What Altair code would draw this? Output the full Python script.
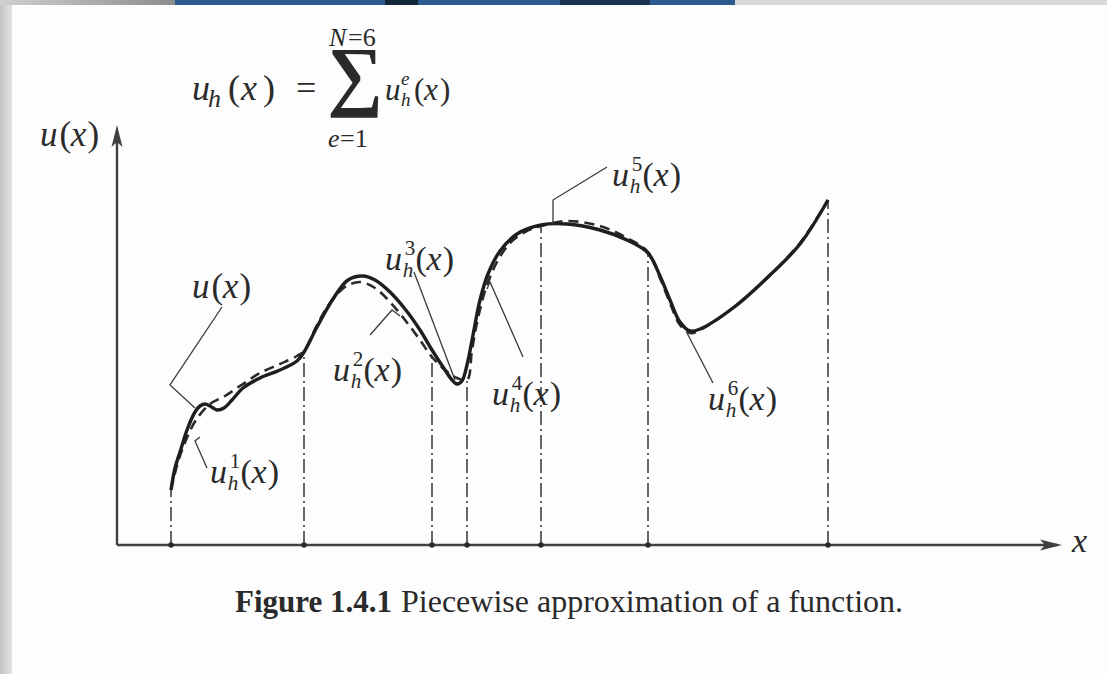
import altair as alt
import pandas as pd

# ---- element nodes on the x axis and the nodal values of the approximation
node_x = [0.54, 1.87, 3.15, 3.50, 4.24, 5.31, 7.11]
node_u = [0.55, 1.94, 1.88, 1.65, 3.19, 2.93, 3.45]

# ---- exact function u(x)
curve_x = [0.54, 0.58, 0.63, 0.70, 0.78, 0.83, 0.88, 0.93, 1.00, 1.07,
           1.15, 1.26, 1.43, 1.63, 1.80, 1.87, 2.00, 2.16, 2.31, 2.46,
           2.58, 2.73, 2.88, 3.03, 3.15, 3.28, 3.35, 3.40, 3.45, 3.50,
           3.56, 3.63, 3.71, 3.83, 4.00, 4.24, 4.50, 4.83, 5.10, 5.31,
           5.43, 5.53, 5.63, 5.73, 5.83, 6.16, 6.50, 6.83, 7.11]
curve_u = [0.55, 0.77, 0.93, 1.15, 1.33, 1.39, 1.41, 1.39, 1.35, 1.37,
           1.45, 1.57, 1.67, 1.75, 1.84, 1.93, 2.18, 2.46, 2.65, 2.69,
           2.65, 2.53, 2.36, 2.15, 1.95, 1.75, 1.65, 1.61, 1.64, 1.80,
           2.10, 2.45, 2.71, 2.94, 3.11, 3.20, 3.21, 3.15, 3.05, 2.92,
           2.69, 2.45, 2.23, 2.14, 2.16, 2.37, 2.67, 3.01, 3.45]

# ---- piecewise approximation u_h(x), element by element
approx_x = [0.54, 0.61, 0.69, 0.79, 0.93, 1.08, 1.26, 1.43, 1.63, 1.80, 1.87,
            2.00, 2.13, 2.28, 2.43, 2.58, 2.73, 2.88, 3.03, 3.15,
            3.28, 3.40, 3.50,
            3.55, 3.61, 3.69, 3.80, 3.93, 4.08, 4.24,
            4.50, 4.83, 5.10, 5.31,
            5.43, 5.53, 5.63, 5.73, 5.83, 6.16, 6.50, 6.83, 7.11]
approx_u = [0.55, 0.83, 1.05, 1.25, 1.41, 1.49, 1.61, 1.72, 1.81, 1.89, 1.94,
            2.20, 2.42, 2.58, 2.63, 2.57, 2.43, 2.25, 2.05, 1.88,
            1.75, 1.67, 1.65,
            1.95, 2.27, 2.57, 2.83, 3.02, 3.13, 3.19,
            3.24, 3.19, 3.07, 2.93,
            2.67, 2.42, 2.20, 2.12, 2.15, 2.37, 2.67, 3.02, 3.45]

# ---- element numbers used in the labels
element_ids = ["1", "2", "3", "4", "5", "6"]
caption_bold = "Figure 1.4.1"
caption_text = "Piecewise approximation of a function."

# ---- layout: plot window in data units (100 px per unit)
X_DOM = [-1.17, 9.90]
U_DOM = [-1.29, 5.45]
PX = 0.01
W, H = 1107, 674
INK = "#2a2a2a"
FONT = "Liberation Serif"

# leader lines from labels to the curves
leaders = {
    "u": [(1.05, 2.38), (0.53, 1.60), (0.78, 1.37)],
    "1": [(0.83, 1.08), (0.78, 1.04), (0.90, 0.77)],
    "2": [(2.53, 2.10), (2.75, 2.35), (2.83, 2.29)],
    "3": [(2.97, 2.73), (3.38, 1.65)],
    "4": [(4.06, 1.88), (3.73, 2.63), (3.70, 2.56)],
    "5": [(4.90, 3.78), (4.36, 3.45), (4.36, 3.20)],
    "6": [(5.96, 1.62), (5.70, 2.12)],
}
# label anchors (left edge, baseline) of u_h^e(x) for each element
label_anchor = {"1": (0.93, 0.62), "2": (2.16, 1.64), "3": (2.68, 2.75),
                "4": (3.75, 1.40), "5": (4.95, 3.59), "6": (5.91, 1.35)}


def piece(txt, x, u, fs, style):
    return dict(txt=txt, x=x, u=u, fs=fs, style=style)


def uh_label(x0, u0, sup, fs):
    s = fs * PX
    return [piece("u", x0, u0, fs, "i"),
            piece("h", x0 + 0.52 * s, u0 - 0.22 * s, 0.62 * fs, "i"),
            piece(sup, x0 + 0.58 * s, u0 + 0.45 * s, 0.62 * fs, "r"),
            piece("(", x0 + 0.90 * s, u0, fs, "r"),
            piece("x", x0 + 1.22 * s, u0, fs, "i"),
            piece(")", x0 + 1.70 * s, u0, fs, "r")]


def u_label(x0, u0, fs):
    s = fs * PX
    return [piece("u", x0, u0, fs, "i"),
            piece("(", x0 + 0.56 * s, u0, fs, "r"),
            piece("x", x0 + 0.88 * s, u0, fs, "i"),
            piece(")", x0 + 1.36 * s, u0, fs, "r")]


texts = []
texts += u_label(0.75, 2.47, 35)          # u(x) next to the curve
texts += u_label(-0.77, 3.99, 35)         # ordinate label
texts.append(piece("x", 9.55, -0.07, 34, "i"))
for e in element_ids:
    ax, au = label_anchor[e]
    texts += uh_label(ax, au, e, 34)

# u_h(x) = sum_{e=1}^{N=6} u_h^e(x)
fx, fu = 0.75, 4.45
texts += [piece("u", fx, fu, 36, "i"),
          piece("h", fx + 0.16, fu - 0.07, 26, "i"),
          piece("(", fx + 0.36, fu, 36, "r"),
          piece("x", fx + 0.49, fu, 36, "i"),
          piece(")", fx + 0.71, fu, 36, "r"),
          piece("=", fx + 1.04, fu, 36, "r"),
          piece("\u2211", 2.10, 4.44, 78, "b"),
          piece("N", 2.12, 4.99, 26, "i"),
          piece("=6", 2.31, 4.99, 26, "r"),
          piece("e", 2.11, 3.98, 26, "i"),
          piece("=1", 2.23, 3.98, 26, "r"),
          piece("u", 2.68, fu, 31, "i"),
          piece("e", 2.84, fu + 0.15, 19, "i"),
          piece("h", 2.84, fu - 0.06, 19, "i"),
          piece("(", 2.97, fu, 31, "r"),
          piece("x", 3.07, fu, 31, "i"),
          piece(")", 3.23, fu, 31, "r")]
# caption
texts += [piece(caption_bold, 1.18, -0.67, 31, "b"),
          piece(caption_text, 2.84, -0.67, 32, "r")]

text_df = pd.DataFrame(texts)

curve_df = pd.DataFrame({"x": curve_x, "u": curve_u})
approx_df = pd.DataFrame({"x": approx_x, "u": approx_u})
node_df = pd.DataFrame({"x": node_x, "u": node_u, "zero": [0.0] * len(node_x)})
lead_rows = []
for k, pts in leaders.items():
    for i, (lx, lu) in enumerate(pts):
        lead_rows.append(dict(g=k, i=i, x=lx, u=lu))
lead_df = pd.DataFrame(lead_rows)
axes_df = pd.DataFrame({"x": [0.0, 0.0], "u": [0.0, 0.0],
                        "x2": [9.40, 0.0], "u2": [0.0, 4.12]})
arrow_df = pd.DataFrame({"x": [9.34, 0.0], "u": [0.0, 4.09], "ang": [0, 270]})

xs = alt.Scale(domain=X_DOM, nice=False, zero=False)
us = alt.Scale(domain=U_DOM, nice=False, zero=False)
X = alt.X("x:Q", scale=xs, axis=None)
U = alt.Y("u:Q", scale=us, axis=None)

# page frame: slide edge showing at the top and left
frame_top = [(0, 175, alt.Gradient(gradient="linear", stops=[
                 alt.GradientStop(color="#d0d0d0", offset=0),
                 alt.GradientStop(color="#8c8c8c", offset=1)], x1=0, x2=1, y1=0, y2=0)),
             (175, 385, "#2c5b8f"), (385, 418, "#14263a"), (418, 560, "#2c5b8f"),
             (560, 650, "#1b3352"), (650, 735, "#2c5b8f"), (735, W, "#d9d9d9")]
frame_layers = []
for a, b, col in frame_top:
    frame_layers.append(alt.Chart(pd.DataFrame({"k": [0]})).mark_rect(color=col).encode(
        x=alt.value(a), x2=alt.value(b), y=alt.value(0), y2=alt.value(5)))
frame_layers.append(alt.Chart(pd.DataFrame({"k": [0]})).mark_rect(
    color=alt.Gradient(gradient="linear", stops=[
        alt.GradientStop(color="#c4c4c4", offset=0),
        alt.GradientStop(color="#e3e3e3", offset=1)], x1=0, x2=1, y1=0, y2=0)
).encode(x=alt.value(0), x2=alt.value(12), y=alt.value(5), y2=alt.value(H)))

base_axes = alt.Chart(axes_df).mark_rule(color="#404040", strokeWidth=2.4).encode(
    x=X, y=U, x2="x2:Q", y2="u2:Q")
arrows = alt.Chart(arrow_df).mark_point(
    shape="M 1 0 L -1 -0.5 L -0.55 0 L -1 0.5 Z", filled=True, color="#404040",
    size=480, opacity=1).encode(x=X, y=U, angle=alt.Angle("ang:Q", scale=None))

dashdot = alt.Chart(node_df).mark_rule(color="#333333", strokeWidth=1.5,
                                       strokeDash=[14, 4, 2, 4]).encode(
    x=X, y=alt.Y("zero:Q", scale=us, axis=None), y2="u:Q")
node_dots = alt.Chart(node_df).mark_point(filled=True, color="#2a2a2a", size=30,
                                          opacity=1).encode(
    x=X, y=alt.Y("zero:Q", scale=us, axis=None))

approx = alt.Chart(approx_df).mark_line(color="#2a2a2a", strokeWidth=2.6,
                                        strokeDash=[10, 6],
                                        interpolate="catmull-rom").encode(x=X, y=U)
curve = alt.Chart(curve_df).mark_line(color="#1e1e1e", strokeWidth=3.4,
                                      interpolate="catmull-rom").encode(x=X, y=U)
lead = alt.Chart(lead_df).mark_line(color="#3a3a3a", strokeWidth=1.3).encode(
    x=X, y=U, detail="g:N", order="i:Q")


def text_layer(style, **kw):
    return alt.Chart(text_df).transform_filter(
        alt.datum.style == style).mark_text(
        align="left", baseline="alphabetic", font=FONT, color=INK, **kw).encode(
        x=X, y=U, text="txt:N", size=alt.Size("fs:Q", scale=None, legend=None))


chart = alt.layer(
    *frame_layers, dashdot, base_axes, arrows, node_dots, approx, curve, lead,
    text_layer("i", fontStyle="italic"), text_layer("r"),
    text_layer("b", fontWeight="bold"),
).properties(
    width=W, height=H, background="#fdfdfd", padding=0,
    autosize=alt.AutoSizeParams(type="none"),
).configure_view(stroke=None)

chart.save("out.html", embed_options={"renderer": "svg", "actions": False})
